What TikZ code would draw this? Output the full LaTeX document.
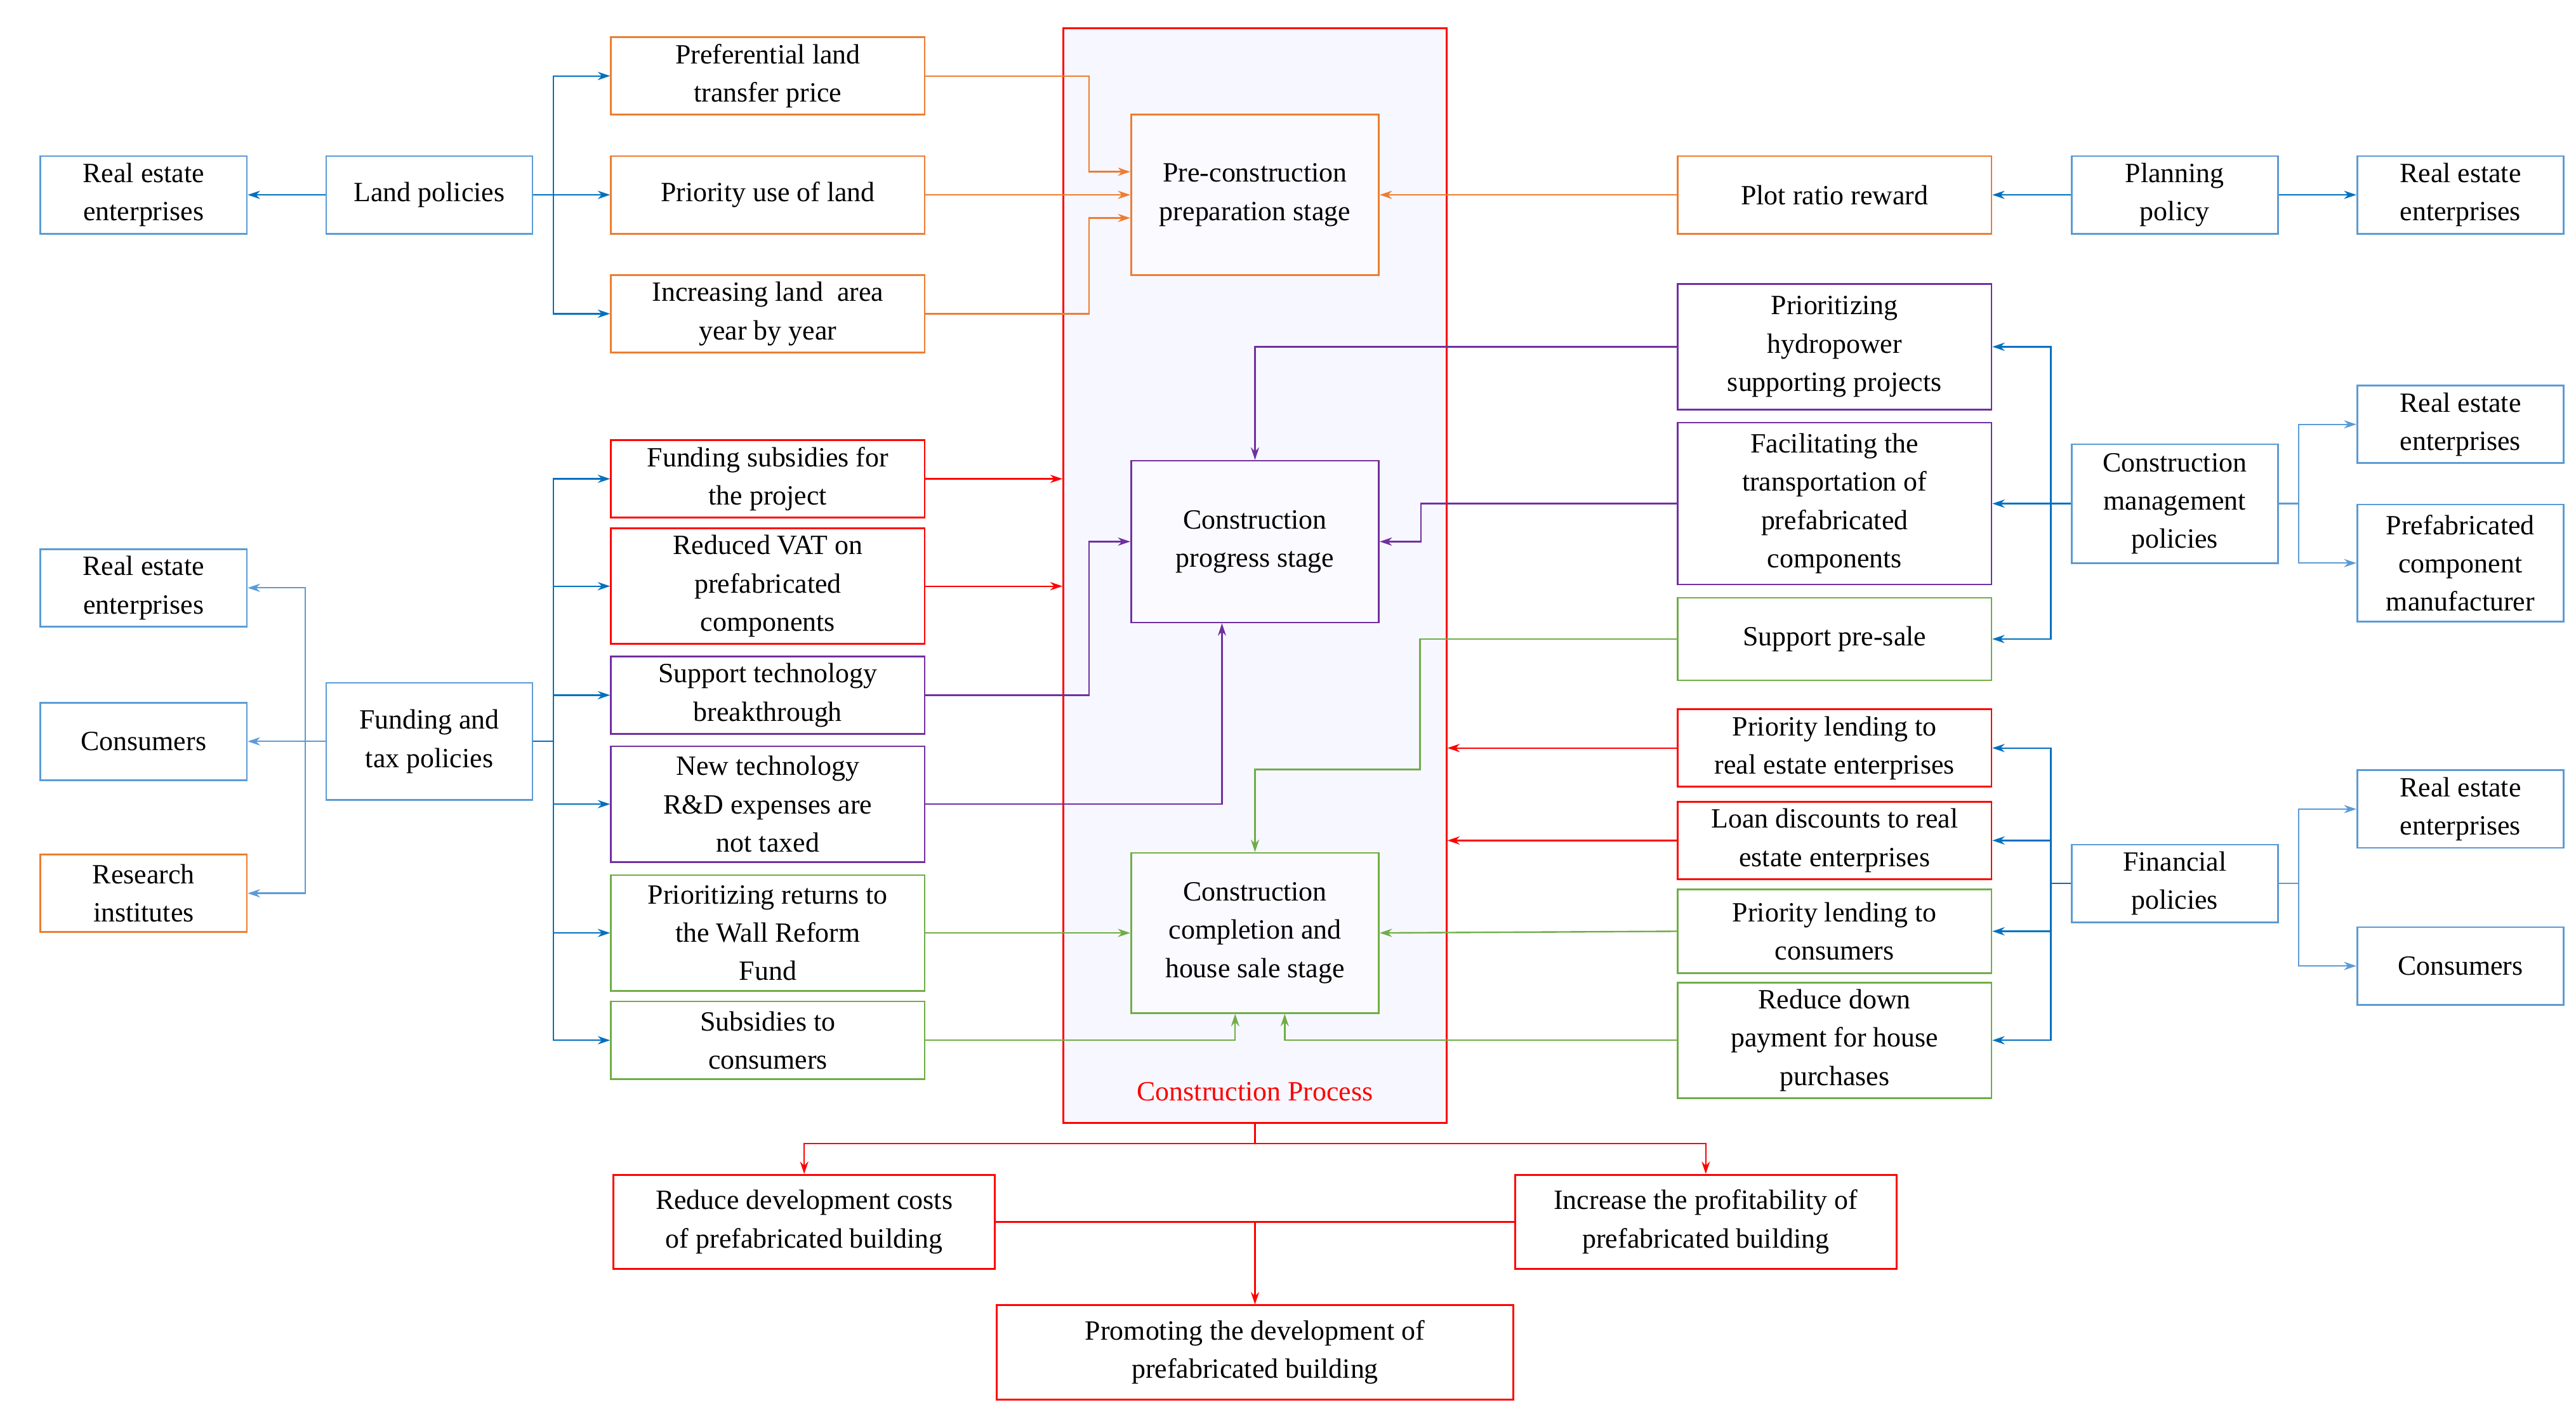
\documentclass[tikz,border=0pt]{standalone}
\usepackage{fontspec}
\setmainfont{Liberation Serif}
\usetikzlibrary{arrows.meta}
\definecolor{cb}{RGB}{91,155,213}
\definecolor{ca}{RGB}{0,112,192}
\definecolor{co}{RGB}{237,125,49}
\definecolor{cr}{RGB}{255,0,0}
\definecolor{cp}{RGB}{112,48,160}
\definecolor{cg}{RGB}{112,173,71}
\begin{document}
\begin{tikzpicture}[x=0.1cm,y=-0.1cm,
 bx/.style={draw=#1,line width=3pt,fill=white,align=center,inner sep=0pt,font=\fontsize{48}{66}\selectfont},
 s/.style={minimum width=12.5cm,minimum height=4.7cm},
 m/.style={minimum width=19cm,minimum height=4.7cm},
 ar/.style={draw=#1,line width=2.6pt,-{Stealth[length=0.75cm,width=0.5cm]}},
 ln/.style={draw=#1,line width=2.6pt}]
\path[use as bounding box] (0,0) rectangle (1560,855);
% process frame
\node[draw=cr,line width=3pt,fill=blue!3,minimum width=23.2cm,minimum height=66.3cm,inner sep=0] (proc) at (760,348.5) {};
\node[text=cr,font=\fontsize{48}{66}\selectfont] (plab) at (760,661) {Construction Process};
\node[bx=co,fill=blue!2,minimum width=15cm,minimum height=9.7cm] (pre) at (760,118) {Pre-construction\\preparation stage};
\node[bx=cp,fill=blue!2,minimum width=15cm,minimum height=9.8cm] (cpr) at (760,328) {Construction\\progress stage};
\node[bx=cg,fill=blue!2,minimum width=15cm,minimum height=9.7cm] (cc) at (760,565) {Construction\\completion and\\house sale stage};
% left
\node[bx=cb,s] (re1) at (87,118) {Real estate\\enterprises};
\node[bx=cb,s] (lp) at (260,118) {Land policies};
\node[bx=co,m] (pref) at (465,46) {Preferential land\\transfer price};
\node[bx=co,m] (pul) at (465,118) {Priority use of land};
\node[bx=co,m] (ila) at (465,190) {Increasing land\enspace area\\year by year};
\node[bx=cr,m] (fs) at (465,290) {Funding subsidies for\\the project};
\node[bx=cr,m,minimum height=7cm] (vat) at (465,355) {Reduced VAT on\\prefabricated\\components};
\node[bx=cp,m] (st) at (465,421) {Support technology\\breakthrough};
\node[bx=cp,m,minimum height=7cm] (nt) at (465,487) {New technology\\R\&D expenses are\\not taxed};
\node[bx=cg,m,minimum height=7cm] (pr) at (465,565) {Prioritizing returns to\\the Wall Reform\\Fund};
\node[bx=cg,m] (sc) at (465,630) {Subsidies to\\consumers};
\node[bx=cb,s] (re2) at (87,356) {Real estate\\enterprises};
\node[bx=cb,s] (con1) at (87,449) {Consumers};
\node[bx=co,s] (ri) at (87,541) {Research\\institutes};
\node[bx=cb,s,minimum height=7.1cm] (ft) at (260,449) {Funding and\\tax policies};
% right
\node[bx=co,m] (plot) at (1111,118) {Plot ratio reward};
\node[bx=cb,s] (pp) at (1317,118) {Planning\\policy};
\node[bx=cb,s] (re3) at (1490,118) {Real estate\\enterprises};
\node[bx=cp,m,minimum height=7.6cm] (hy) at (1111,210) {Prioritizing\\hydropower\\supporting projects};
\node[bx=cp,m,minimum height=9.8cm] (fa) at (1111,305) {Facilitating the\\transportation of\\prefabricated\\components};
\node[bx=cg,m,minimum height=5cm] (ps) at (1111,387) {Support pre-sale};
\node[bx=cb,s,minimum height=7.2cm] (cm) at (1317,305) {Construction\\management\\policies};
\node[bx=cb,s] (re4) at (1490,257) {Real estate\\enterprises};
\node[bx=cb,s,minimum height=7.1cm] (pcm) at (1490,341) {Prefabricated\\component\\manufacturer};
\node[bx=cr,m] (plr) at (1111,453) {Priority lending to\\real estate enterprises};
\node[bx=cr,m] (ld) at (1111,509) {Loan discounts to real\\estate enterprises};
\node[bx=cg,m,minimum height=5.1cm] (plc) at (1111,564) {Priority lending to\\consumers};
\node[bx=cg,m,minimum height=7cm] (rd) at (1111,630) {Reduce down\\payment for house\\purchases};
\node[bx=cb,s] (fp) at (1317,535) {Financial\\policies};
\node[bx=cb,s] (re5) at (1490,490) {Real estate\\enterprises};
\node[bx=cb,s] (con2) at (1490,585) {Consumers};
% bottom
\node[bx=cr,minimum width=23.1cm,minimum height=5.7cm] (rdc) at (487,740) {Reduce development costs\\of prefabricated building};
\node[bx=cr,minimum width=23.1cm,minimum height=5.7cm] (ip) at (1033,740) {Increase the profitability of\\prefabricated building};
\node[bx=cr,minimum width=31.3cm,minimum height=5.7cm] (prom) at (760,819) {Promoting the development of\\prefabricated building};
% land policy connectors
\draw[ar=ca] (lp.west) -- (re1.east);
\foreach \t in {pref,pul,ila} \draw[ar=ca] (lp.east) -- ++(12,0) |- (\t.west);
\draw[ar=co] (pref.east) -| ([xshift=-2.5cm,yshift=1.4cm]pre.west) -- ([yshift=1.4cm]pre.west);
\draw[ar=co] (pul.east) -- (pre.west);
\draw[ar=co] (ila.east) -| ([xshift=-2.5cm,yshift=-1.4cm]pre.west) -- ([yshift=-1.4cm]pre.west);
\draw[ar=co] (plot.west) -- (pre.east);
\draw[ar=ca] (pp.west) -- (plot.east);
\draw[ar=ca] (pp.east) -- (re3.west);
% funding and tax
\foreach \t in {fs,vat,st,nt,pr,sc} \draw[ar=ca] (ft.east) -- ++(12,0) |- (\t.west);
\foreach \t in {re2,con1,ri} \draw[ar=cb] (ft.west) -- ++(-12,0) |- (\t.east);
\draw[ar=cr] (fs.east) -- (fs.east -| proc.west);
\draw[ar=cr] (vat.east) -- (vat.east -| proc.west);
\draw[ar=cp] (st.east) -| ([xshift=-2.5cm]cpr.west) -- (cpr.west);
\draw[ar=cp] (nt.east) -| ([xshift=-2cm]cpr.south);
\draw[ar=cg] (pr.east) -- (cc.west);
\draw[ar=cg] (sc.east) -| ([xshift=-1.2cm]cc.south);
% construction management
\foreach \t in {hy,fa,ps} \draw[ar=ca] (cm.west) -- ++(-12,0) |- (\t.east);
\foreach \t in {re4,pcm} \draw[ar=cb] (cm.east) -- ++(12,0) |- (\t.west);
\draw[ar=cp] (hy.west) -| (cpr.north);
\draw[ar=cp] (fa.west) -| ([xshift=2.5cm]cpr.east) -- (cpr.east);
\draw[ar=cg] (ps.west) -| ([xshift=10cm,yshift=5cm]cc.north) -| (cc.north);
% financial
\foreach \t in {plr,ld,plc,rd} \draw[ar=ca] (fp.west) -- ++(-12,0) |- (\t.east);
\foreach \t in {re5,con2} \draw[ar=cb] (fp.east) -- ++(12,0) |- (\t.west);
\draw[ar=cr] (plr.west) -- (plr.west -| proc.east);
\draw[ar=cr] (ld.west) -- (ld.west -| proc.east);
\draw[ar=cg] (plc.west) -- (cc.east);
\draw[ar=cg] (rd.west) -| ([xshift=1.8cm]cc.south);
% bottom
\draw[ar=cr] (proc.south) -- ++(0,12) -| (rdc.north);
\draw[ar=cr] (proc.south) -- ++(0,12) -| (ip.north);
\draw[ln=cr] (rdc.east) -- (ip.west);
\draw[ar=cr] (rdc.east -| proc.south) -- (prom.north);
\end{tikzpicture}
\end{document}
